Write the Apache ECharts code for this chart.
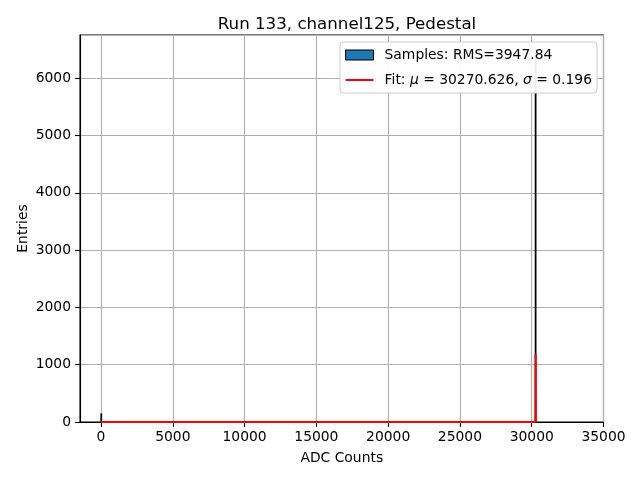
<!DOCTYPE html>
<html>
<head>
<meta charset="utf-8">
<script src="https://cdn.jsdelivr.net/npm/echarts@6/dist/echarts.min.js"></script>
<style>html,body{margin:0;padding:0;background:#fff}#c{width:640px;height:480px}</style>
</head>
<body>
<div id="c"></div>
<script>
// Histogram bins (ADC counts): left edge, right edge, entries
var binLeft = [0, 30254];
var binRight = [33, 30287];
var binCounts = [140, 6434];
// Gaussian fit curve samples
var fitX = [0, 30258, 30270.6, 30283];
var fitY = [0, 0, 1187, 0];
var titleText = 'Run 133, channel125, Pedestal';
var sampleLabel = 'Samples: RMS=3947.84';
var fitLabel = 'Fit';

var FONT = 'DejaVu Sans';
var FS = 13.89;
var chart = echarts.init(document.getElementById('c'), null, {renderer: 'canvas'});
var histData = binLeft.map(function (l, i) { return [l, binRight[i], binCounts[i]]; });
var fitData = fitX.map(function (x, i) { return [x, fitY[i]]; });
function plain(v) { return String(Math.round(v)); }

chart.setOption({
  animation: false,
  backgroundColor: '#ffffff',
  textStyle: {fontFamily: FONT},
  title: {
    text: titleText, left: 342, top: 11, textAlign: 'center',
    textStyle: {fontFamily: FONT, fontSize: 16.67, fontWeight: 'normal', color: '#000'}
  },
  grid: {left: 80, right: 36.5, top: 35, bottom: 58, show: true, borderColor: '#000', borderWidth: 1.1, backgroundColor: 'transparent'},
  legend: {
    z: 100,
    right: 43, top: 42, orient: 'vertical', itemWidth: 28, itemHeight: 10, itemGap: 11,
    backgroundColor: 'rgba(255,255,255,0.92)', borderColor: '#cccccc', borderWidth: 1, borderRadius: 3,
    padding: [6, 5, 6, 5],
    data: [
      {name: sampleLabel, icon: 'rect', itemStyle: {color: '#1f77b4', borderColor: '#000', borderWidth: 1}},
      {name: fitLabel, icon: 'path://M0,0H28V2H0Z', itemStyle: {color: '#ff0000', borderWidth: 0}}
    ],
    formatter: function (name) {
      if (name === fitLabel) return '{g|}{a|Fit: }{i|μ}{a| = 30270.626, }{i|σ}{a| = 0.196}';
      return '{g|}{a|' + name + '}';
    },
    textStyle: {
      fontFamily: FONT, fontSize: FS, color: '#000',
      rich: {
        g: {width: 6},
        a: {fontFamily: FONT, fontSize: FS, color: '#000'},
        i: {fontFamily: FONT, fontSize: FS, fontStyle: 'italic', color: '#000'}
      }
    }
  },
  xAxis: {
    type: 'value', min: -1465, max: 35000, splitNumber: 7,
    name: 'ADC Counts', nameLocation: 'middle', nameGap: 29,
    nameTextStyle: {fontFamily: FONT, fontSize: FS, color: '#000'},
    axisLine: {show: true, onZero: false, lineStyle: {color: '#000', width: 1.1}},
    axisTick: {show: true, inside: false, length: 5, lineStyle: {color: '#000', width: 1.1}},
    axisLabel: {showMinLabel: false, margin: 8, fontFamily: FONT, fontSize: FS, color: '#000', formatter: plain},
    splitLine: {show: true, lineStyle: {color: '#b0b0b0', width: 1.1}}
  },
  yAxis: {
    type: 'value', min: 0, max: 6756, interval: 1000,
    name: 'Entries', nameLocation: 'middle', nameGap: 50, nameMoveOverlap: false,
    nameTextStyle: {fontFamily: FONT, fontSize: FS, color: '#000'},
    axisLine: {show: true, onZero: false, lineStyle: {color: '#000', width: 1.1}},
    axisTick: {show: true, inside: false, length: 5, lineStyle: {color: '#000', width: 1.1}},
    axisLabel: {showMaxLabel: false, margin: 9, fontFamily: FONT, fontSize: FS, color: '#000', formatter: plain},
    splitLine: {show: true, lineStyle: {color: '#b0b0b0', width: 1.1}}
  },
  series: [
    {
      name: sampleLabel, type: 'custom', z: 2,
      itemStyle: {color: '#1f77b4'},
      encode: {x: [0, 1], y: 2},
      data: histData,
      renderItem: function (params, api) {
        var p0 = api.coord([api.value(0), api.value(2)]);
        var p1 = api.coord([api.value(1), 0]);
        return {
          type: 'rect',
          shape: {x: p0[0], y: p0[1], width: Math.max(p1[0] - p0[0], 0.3), height: p1[1] - p0[1]},
          style: {fill: '#1f77b4', stroke: '#000', lineWidth: 1.3}
        };
      }
    },
    {
      name: fitLabel, type: 'line', z: 3, symbol: 'none', showSymbol: false,
      lineStyle: {color: '#ff0000', width: 2.1},
      itemStyle: {color: '#ff0000'},
      data: fitData
    }
  ]
});
</script>
</body>
</html>
